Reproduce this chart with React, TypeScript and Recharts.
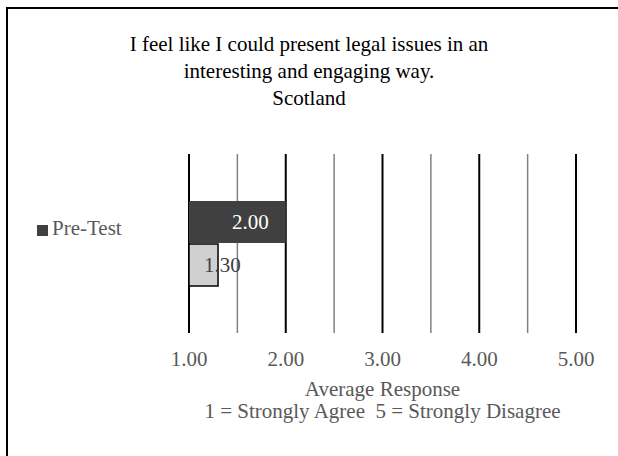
import { BarChart, Bar, XAxis, YAxis, CartesianGrid, Legend, LabelList, Label } from 'recharts'

const categories = ['Scotland']
const preTest = [2.0]
const postTest = [1.3]
const majorTicks = [1, 2, 3, 4, 5]
const minorTicks = [1.5, 2.5, 3.5, 4.5]
const titleLines = [
  'I feel like I could present legal issues in an',
  'interesting and engaging way.',
  'Scotland',
]
const axisTitleLines = ['Average Response', '1 = Strongly Agree  5 = Strongly Disagree']

const data = categories.map((name, i) => ({
  name,
  pre: preTest[i],
  post: postTest[i],
}))

const FONT = '"Liberation Serif", "Times New Roman", serif'
const GREY_TEXT = '#595959'

const fmt = (v: any) => Number(v).toFixed(2)

const renderAxisTitle = (props: any) => {
  const vb = props.viewBox || {}
  const cx = vb.x + vb.width / 2
  return (
    <text
      x={cx}
      textAnchor="middle"
      fill={GREY_TEXT}
      fontSize={21}
      fontFamily={FONT}
      style={{ whiteSpace: 'pre' }}
    >
      <tspan x={cx} y={vb.y + 63}>
        {axisTitleLines[0]}
      </tspan>
      <tspan x={cx} y={vb.y + 85}>
        {axisTitleLines[1]}
      </tspan>
    </text>
  )
}

export default function App() {
  return (
    <div
      style={{
        position: 'absolute',
        left: 0,
        top: 0,
        width: 618,
        height: 456,
        overflow: 'hidden',
        background: '#fff',
        fontFamily: FONT,
      }}
    >
      <div
        style={{
          position: 'absolute',
          left: 6,
          top: 7,
          width: 700,
          height: 600,
          border: '2.5px solid #000',
        }}
      />
      <div
        style={{
          position: 'absolute',
          left: 0,
          top: 31,
          width: 618,
          textAlign: 'center',
          fontSize: 21,
          lineHeight: '27px',
          color: '#000',
        }}
      >
        {titleLines.map((t) => (
          <div key={t}>{t}</div>
        ))}
      </div>
      <BarChart
        width={618}
        height={456}
        data={data}
        layout="vertical"
        margin={{ top: 154, right: 42, left: 189, bottom: 83 }}
        barSize={42}
        barGap={1}
        style={{ position: 'absolute', left: 0, top: 0 }}
      >
        <CartesianGrid xAxisId="minor" horizontal={false} stroke="#808080" strokeWidth={1.5} />
        <CartesianGrid xAxisId="major" horizontal={false} stroke="#000" strokeWidth={2} />
        <XAxis
          xAxisId="minor"
          type="number"
          domain={[1, 5]}
          ticks={minorTicks}
          hide
          allowDataOverflow
        />
        <XAxis
          xAxisId="major"
          type="number"
          domain={[1, 5]}
          ticks={majorTicks}
          allowDataOverflow
          axisLine={false}
          tickLine={false}
          tickSize={0}
          tickMargin={18}
          height={40}
          tickFormatter={fmt}
          tick={{ fill: GREY_TEXT, fontSize: 21, fontFamily: FONT }}
        >
          <Label content={renderAxisTitle} />
        </XAxis>
        <YAxis type="category" dataKey="name" hide />
        <Legend
          layout="horizontal"
          align="center"
          verticalAlign="middle"
          iconType="square"
          iconSize={11}
          wrapperStyle={{ left: 37, top: 216, width: 'auto', fontSize: 21, fontFamily: FONT }}
          formatter={(value) => <span style={{ color: GREY_TEXT }}>{value}</span>}
        />
        <Bar
          xAxisId="major"
          dataKey="pre"
          name="Pre-Test"
          fill="#404040"
          isAnimationActive={false}
        >
          <LabelList
            dataKey="pre"
            position="insideRight"
            offset={17}
            formatter={fmt}
            fill="#fff"
            fontSize={21}
            fontFamily={FONT}
          />
        </Bar>
        <Bar
          xAxisId="major"
          dataKey="post"
          name="Post-Test"
          fill="#d0d0d0"
          stroke="#000"
          strokeWidth={1.5}
          legendType="none"
          isAnimationActive={false}
        >
          <LabelList
            dataKey="post"
            position="right"
            offset={-14}
            formatter={fmt}
            fill="#404040"
            fontSize={21}
            fontFamily={FONT}
          />
        </Bar>
      </BarChart>
    </div>
  )
}
